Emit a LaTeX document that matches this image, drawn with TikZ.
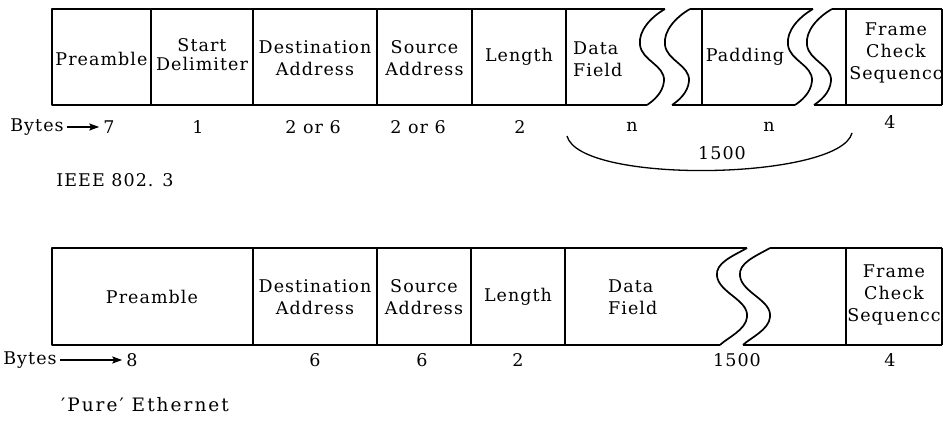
\documentclass[tikz,border=0pt]{standalone}
\usepackage{fontspec}
\setmainfont{DejaVu Serif}[LetterSpace=6]
\usetikzlibrary{arrows.meta}
\begin{document}
\begin{tikzpicture}[x=1pt,y=-1pt,
  frame/.style={line width=1.7pt, line join=round},
  divider/.style={line width=1.1pt},
  field/.style={font=\fontsize{17.5}{22}\selectfont, align=center, inner sep=0pt},
  lbl/.style={font=\fontsize{17.5}{22}\selectfont, inner sep=0pt},
  caption/.style={font=\fontsize{18.5}{22}\selectfont\addfontfeature{LetterSpace=11}, inner sep=0pt},
  bytearrow/.style={line width=1.5pt, -{Stealth[length=10pt,width=7pt,inset=2pt]}, shorten <=3pt, shorten >=4pt},
  bracecurve/.style={line width=1.3pt},
]
\useasboundingbox (0,0) rectangle (943,441);

% ---------- IEEE 802.3 frame ----------
\draw[frame] (665,9) -- (52,9) -- (52,105) -- (647,105);
\draw[frame] (690,9) -- (813,9);
\draw[frame] (672,105) -- (795,105);
\draw[frame] (832,9) -- (942,9);
\draw[frame] (814,105) -- (942,105);
\draw[divider] (942,9) -- (942,105);
% broken-field waves
\foreach \wx in {665,690,813,832}{
  \draw[frame, shift={(\wx,9)}] (0,0) .. controls (-14,8) and (-27,22) .. (-25,36)
      .. controls (-23,52) and (0,56) .. (-1,72)
      .. controls (-2,84) and (-12,92) .. (-18,96);
}
\foreach \dx in {151,253,377,472,566,702,846}{
  \draw[divider] (\dx,9) -- (\dx,105);
}
\node[field] (pre1) at (101.5,59) {Preamble};
\node[field, font=\fontsize{17.5}{19}\selectfont] (sd1) at (202,55) {Start\\Delimiter};
\node[field] (da1) at (315,58) {Destination\\Address};
\node[field] (sa1) at (424.5,58) {Source\\Address};
\node[field] (len1) at (519,57) {Length};
\node[field, align=left, anchor=west] (df1) at (573,59) {Data\\Field};
\node[field] (pad1) at (745,57) {Padding};
\node[field] (fcs1) at (896,53) {Frame\\Check\\Sequencc};

% byte counts
\node[lbl] (bytes1) at (37,127) {Bytes};
\node[lbl] (n7) at (109,127) {7};
\draw[bytearrow] (bytes1) -- (n7);
\node[lbl] (n1) at (198,127) {1};
\node[lbl] (n26a) at (313,127) {2 or 6};
\node[lbl] (n26b) at (418,127) {2 or 6};
\node[lbl] (n2a) at (520,127) {2};
\node[lbl] (nna) at (632,127) {n};
\node[lbl] (nnb) at (769,127) {n};
\node[lbl] (n4a) at (890,122) {4};
% data + padding span
\coordinate (brl) at (567,136);
\coordinate (brr) at (852,133);
\draw[bracecurve] (brl) .. controls (580,185) and (840,180) .. (brr);
\node[lbl] (n1500a) at (722,153) {1500};

\node[lbl] (ieee) at (115,180) {IEEE 802. 3};

% ---------- Ethernet frame ----------
\draw[frame] (747,248) -- (52,248) -- (52,345) -- (720,345);
\draw[frame] (770,248) -- (942,248);
\draw[frame] (743,345) -- (942,345);
\draw[divider] (942,248) -- (942,345);
\foreach \wx in {747,770}{
  \draw[frame, shift={(\wx,248)}] (0,0) .. controls (-14,8) and (-32,15) .. (-30,28)
      .. controls (-28,45) and (2,52) .. (0,69)
      .. controls (-1,82) and (-20,90) .. (-27,97);
}
\foreach \dx in {253,377,471,565,846}{
  \draw[divider] (\dx,248) -- (\dx,345);
}
\node[field] (pre2) at (152,297) {Preamble};
\node[field] (da2) at (315,297) {Destination\\Address};
\node[field] (sa2) at (424,297) {Source\\Address};
\node[field] (len2) at (518,297) {Length};
\node[field, align=left, anchor=west] (df2) at (608,297) {Data\\Field};
\node[field] (fcs2) at (894,295) {Frame\\Check\\Sequencc};

\node[lbl] (bytes2) at (30,360) {Bytes};
\node[lbl] (n8) at (132,360) {8};
\draw[bytearrow] (bytes2) -- (n8);
\node[lbl] (n6a) at (315,360) {6};
\node[lbl] (n6b) at (422,360) {6};
\node[lbl] (n2b) at (518,360) {2};
\node[lbl] (n1500b) at (737,360) {1500};
\node[lbl] (n4b) at (890,360) {4};

\node[caption] (pure) at (145,405) {′Pure′ Ethernet};
\end{tikzpicture}
\end{document}
